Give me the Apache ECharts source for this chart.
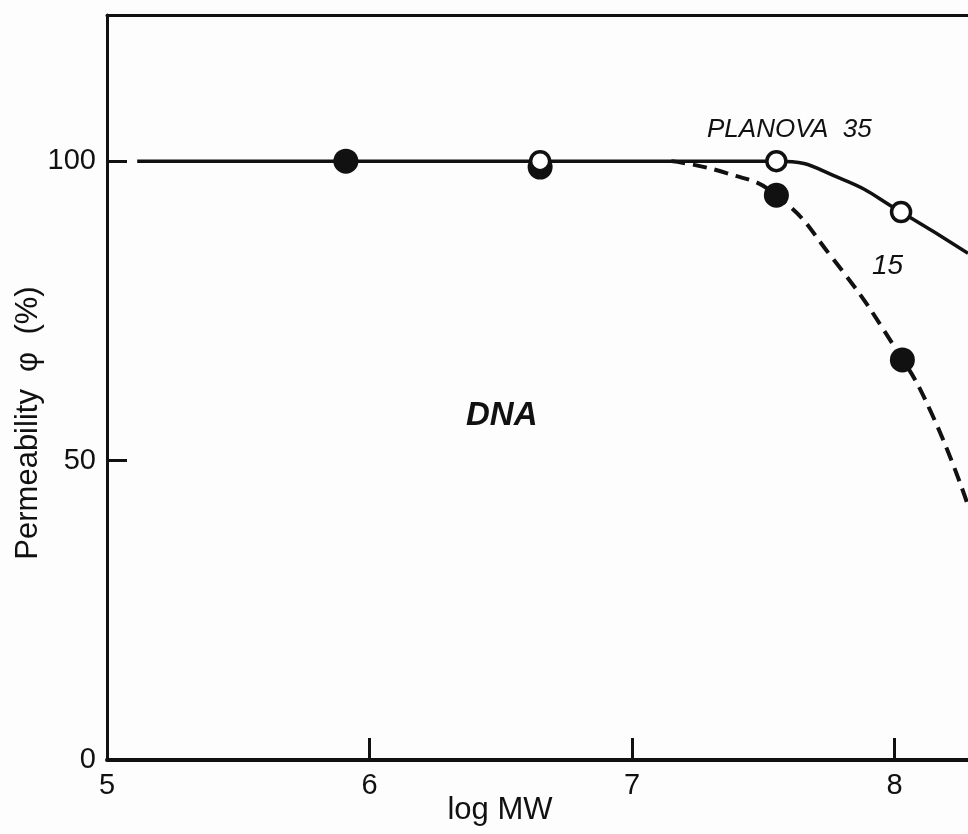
<!DOCTYPE html>
<html>
<head>
<meta charset="utf-8">
<script src="https://cdn.jsdelivr.net/npm/echarts@6/dist/echarts.min.js"></script>
<style>
  html, body { margin: 0; padding: 0; background: #fdfdfd; }
  #chart { width: 968px; height: 834px; }
</style>
</head>
<body>
<div id="chart"></div>
<script>
// log MW vs permeability
var xTicks = [5, 6, 7, 8];
var yTicks = [0, 50, 100];

// traced curve of PLANOVA 35 (solid)
var curve35 = [[5.115, 100], [7.55, 100], [7.8, 97], [8.025, 91.5], [8.28, 84.6]];
// traced curve of PLANOVA 15 (dashed)
var curve15 = [[7.15, 100], [7.36, 98], [7.55, 94.3], [7.76, 84], [8.0, 69], [8.14, 58], [8.28, 42.5]];

// measured points
var open35 = [[6.65, 100], [7.55, 100], [8.025, 91.5]];
var filled15 = [[5.91, 100], [6.65, 99], [7.55, 94.3], [8.03, 66.8]];

var font = '"Liberation Sans", Arial, sans-serif';

var myChart = echarts.init(document.getElementById('chart'));
var option = {
  backgroundColor: '#fdfdfd',
  animation: false,
  grid: { left: 107, right: 0, top: 15, bottom: 74 },
  xAxis: [{
    type: 'value',
    min: 5,
    max: 8.28,
    axisLine: { lineStyle: { color: '#111', width: 4 } },
    axisTick: { inside: true, length: 22, customValues: [6, 7, 8], lineStyle: { color: '#111', width: 3 } },
    axisLabel: { customValues: xTicks, color: '#111', fontSize: 29, fontFamily: font, margin: 11 },
    splitLine: { show: false }
  }, {
    type: 'value',
    position: 'top',
    min: 5,
    max: 8.28,
    axisLine: { show: true, lineStyle: { color: '#111', width: 3 } },
    axisTick: { show: false },
    axisLabel: { show: false },
    splitLine: { show: false }
  }],
  yAxis: {
    type: 'value',
    min: 0,
    max: 124.4,
    axisLine: { show: true, lineStyle: { color: '#111', width: 3 } },
    axisTick: { show: true, inside: true, length: 20, customValues: [50, 100], lineStyle: { color: '#111', width: 3 } },
    axisLabel: { customValues: yTicks, color: '#111', fontSize: 29, fontFamily: font, margin: 11 },
    splitLine: { show: false }
  },
  graphic: [
    { type: 'text', x: 28, y: 423, rotation: Math.PI / 2,
      style: { text: 'Permeability  φ  (%)', fontSize: 31, fontFamily: font, fill: '#111', align: 'center', verticalAlign: 'middle' } },
    { type: 'text', x: 500, y: 810,
      style: { text: 'log MW', fontSize: 31, fontFamily: font, fill: '#111', align: 'center', verticalAlign: 'middle' } },
    { type: 'text', x: 707, y: 130,
      style: { text: 'PLANOVA  35', fontSize: 26, fontStyle: 'italic', fontFamily: font, fill: '#111', verticalAlign: 'middle' } },
    { type: 'text', x: 872, y: 266,
      style: { text: '15', fontSize: 28, fontStyle: 'italic', fontFamily: font, fill: '#111', verticalAlign: 'middle' } },
    { type: 'text', x: 466, y: 416,
      style: { text: 'DNA', fontSize: 33, fontStyle: 'italic', fontWeight: 'bold', fontFamily: font, fill: '#111', verticalAlign: 'middle' } }
  ],
  series: [{
    name: '35',
    type: 'line',
    data: curve35,
    smooth: 0.5,
    symbol: 'none',
    lineStyle: { color: '#111', width: 3.5 },
    z: 2
  }, {
    name: '15',
    type: 'line',
    data: curve15,
    smooth: 0.5,
    symbol: 'none',
    lineStyle: { color: '#111', width: 4, type: [14, 8] },
    z: 2
  }, {
    name: '15 points',
    type: 'scatter',
    data: filled15,
    symbol: 'circle',
    symbolSize: 25,
    itemStyle: { color: '#111', opacity: 1 },
    z: 3
  }, {
    name: '35 points',
    type: 'scatter',
    data: open35,
    symbol: 'circle',
    symbolSize: 19,
    itemStyle: { color: '#fff', borderColor: '#111', borderWidth: 3.5, opacity: 1 },
    z: 4
  }]
};
myChart.setOption(option);
</script>
</body>
</html>
